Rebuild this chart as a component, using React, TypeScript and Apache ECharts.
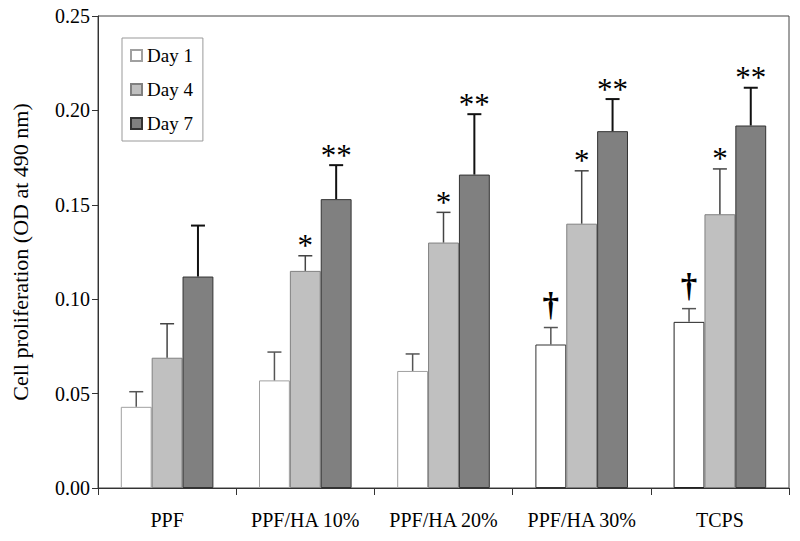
import React, { useEffect, useRef } from "react";
import * as echarts from "echarts";

const categories = ["PPF", "PPF/HA 10%", "PPF/HA 20%", "PPF/HA 30%", "TCPS"];
const seriesNames = ["Day 1", "Day 4", "Day 7"];
const yTicks = [0, 0.05, 0.1, 0.15, 0.2, 0.25];

const day1 = [0.043, 0.057, 0.062, 0.076, 0.088];
const day4 = [0.069, 0.115, 0.130, 0.140, 0.145];
const day7 = [0.112, 0.153, 0.166, 0.189, 0.192];

const day1Err = [0.008, 0.015, 0.009, 0.009, 0.007];
const day4Err = [0.018, 0.008, 0.016, 0.028, 0.024];
const day7Err = [0.027, 0.018, 0.032, 0.017, 0.020];

const day1Marks = ["", "", "", "†", "†"];
const day4Marks = ["", "*", "*", "*", "*"];
const day7Marks = ["", "**", "**", "**", "**"];

const FONT = "'Liberation Serif', 'Times New Roman', serif";
const CAT_GAP = 0.33;

export default function App() {
  const ref = useRef<HTMLDivElement>(null);

  useEffect(() => {
    if (!ref.current) return;
    const chart = echarts.init(ref.current, null, { renderer: "svg" });

    const day1BorderColors = ["#a0a0a0", "#a0a0a0", "#a0a0a0", "#333333", "#222222"];

    const makeErr = (
      si: number,
      vals: number[],
      errs: number[],
      marks: string[],
      color: string,
      lw: number
    ) => ({
      type: "custom",
      name: "err" + si,
      z: 5,
      clip: false,
      encode: { x: 0, y: 1 },
      data: vals.map((v, i) => [i, v, errs[i]]),
      renderItem: (params: any, api: any) => {
        const ci = api.value(0);
        const m = api.value(1);
        const e = api.value(2);
        const base = api.coord([ci, m]);
        const top = api.coord([ci, m + e]);
        const band = api.size([1, 0])[0];
        const w = (band * (1 - CAT_GAP)) / 3;
        const x = base[0] + (si - 1) * w;
        const half = 7;
        const children: any[] = [
          {
            type: "line",
            shape: { x1: x, y1: base[1], x2: x, y2: top[1] },
            style: { stroke: color, lineWidth: lw },
          },
          {
            type: "line",
            shape: { x1: x - half, y1: top[1], x2: x + half, y2: top[1] },
            style: { stroke: color, lineWidth: lw },
          },
        ];
        const mark = marks[params.dataIndex];
        if (mark) {
          const isDagger = mark === "†";
          children.push({
            type: "text",
            style: {
              text: mark,
              x: x,
              y: isDagger ? top[1] - 23 : top[1] - 10,
              align: "center",
              verticalAlign: "middle",
              fontFamily: FONT,
              fontSize: isDagger ? 33 : 31,
              fontWeight: isDagger ? "bold" : "normal",
              fill: "#000",
            },
          });
        }
        return { type: "group", children };
      },
    });

    const option: any = {
      animation: false,
      backgroundColor: "#ffffff",
      grid: {
        left: 98,
        right: 11,
        top: 16,
        bottom: 53,
        show: true,
        borderColor: "#444",
        borderWidth: 1,
        backgroundColor: "transparent",
      },
      legend: {
        data: seriesNames,
        orient: "vertical",
        left: 122,
        top: 38,
        padding: [8, 10, 8, 8],
        itemGap: 15,
        itemWidth: 11,
        itemHeight: 11,
        icon: "rect",
        borderColor: "#999",
        borderWidth: 1,
        backgroundColor: "#fff",
        textStyle: { fontFamily: FONT, fontSize: 19, color: "#000" },
      },
      xAxis: {
        type: "category",
        data: categories,
        boundaryGap: true,
        axisLine: { lineStyle: { color: "#333", width: 1 } },
        axisTick: { show: true, alignWithLabel: false, interval: 0, length: 7, lineStyle: { color: "#333" } },
        axisLabel: { fontFamily: FONT, fontSize: 20, color: "#000", margin: 22, interval: 0 },
        splitLine: { show: false },
      },
      yAxis: {
        type: "value",
        min: yTicks[0],
        max: yTicks[yTicks.length - 1],
        interval: 0.05,
        name: "Cell proliferation (OD at 490 nm)",
        nameLocation: "middle",
        nameGap: 67,
        nameTextStyle: { fontFamily: FONT, fontSize: 22, color: "#000" },
        axisLine: { show: true, lineStyle: { color: "#333", width: 1 } },
        axisTick: { show: true, length: 6, lineStyle: { color: "#333" } },
        axisLabel: {
          fontFamily: FONT,
          fontSize: 20,
          color: "#000",
          margin: 8,
          formatter: (v: number) => v.toFixed(2),
        },
        splitLine: { show: false },
      },
      series: [
        {
          type: "bar",
          name: "Day 1",
          barGap: "0%",
          barCategoryGap: "33%",
          itemStyle: { color: "#ffffff", borderColor: "#a0a0a0", borderWidth: 1 },
          data: day1.map((v, i) => ({
            value: v,
            itemStyle: { borderColor: day1BorderColors[i] },
          })),
        },
        {
          type: "bar",
          name: "Day 4",
          barGap: "0%",
          barCategoryGap: "33%",
          itemStyle: { color: "#c0c0c0", borderColor: "#808080", borderWidth: 1 },
          data: day4,
        },
        {
          type: "bar",
          name: "Day 7",
          barGap: "0%",
          barCategoryGap: "33%",
          itemStyle: { color: "#808080", borderColor: "#333333", borderWidth: 1 },
          data: day7,
        },
        makeErr(0, day1, day1Err, day1Marks, "#555", 1.5),
        makeErr(1, day4, day4Err, day4Marks, "#444", 1.5),
        makeErr(2, day7, day7Err, day7Marks, "#111", 2),
      ],
    };

    chart.setOption(option);
    return () => chart.dispose();
  }, []);

  return (
    <div
      ref={ref}
      style={{ position: "absolute", left: 0, top: 0, width: 800, height: 541 }}
    />
  );
}
